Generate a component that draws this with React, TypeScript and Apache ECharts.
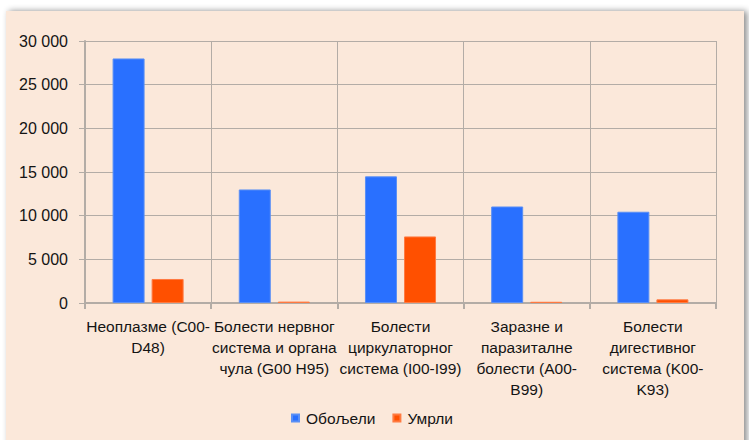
import React, { useEffect, useRef } from "react";
import * as echarts from "echarts";

const categories = [
  "Неоплазме (C00-\nD48)",
  "Болести нервног\nсистема и органа\nчула (G00 H95)",
  "Болести\nциркулаторног\nсистема (I00-I99)",
  "Заразне и\nпаразиталне\nболести (A00-\nB99)",
  "Болести\nдигестивног\nсистема (K00-\nK93)",
];
const seriesNames = ["Обољели", "Умрли"];
const oboljeli = [28000, 13000, 14500, 11050, 10450];
const umrli = [2750, 160, 7620, 140, 420];
const yTicks = [0, 5000, 10000, 15000, 20000, 25000, 30000];

const FONT = "'Liberation Sans', Arial, sans-serif";
const GRID_COLOR = "#b3aca6";
const TEXT_COLOR = "#141414";

export default function App() {
  const ref = useRef<HTMLDivElement>(null);

  useEffect(() => {
    if (!ref.current) return;
    const chart = echarts.init(ref.current, null, { renderer: "svg" });
    chart.setOption({
      animation: false,
      backgroundColor: "#ffffff",
      graphic: [
        {
          type: "rect",
          z: -10,
          silent: true,
          shape: { x: 6, y: 11, width: 738, height: 440 },
          style: {
            fill: "#fbe8da",
            shadowColor: "rgba(0,0,0,0.45)",
            shadowBlur: 6,
            shadowOffsetX: 3,
            shadowOffsetY: 0,
          },
        },
      ],
      textStyle: { fontFamily: FONT },
      grid: { left: 85, right: 33, top: 41, bottom: 137, containLabel: false },
      legend: {
        left: 286,
        top: 405,
        itemWidth: 7,
        itemHeight: 7,
        itemGap: 17,
        icon: "rect",
        textStyle: { fontFamily: FONT, fontSize: 15.5, color: TEXT_COLOR, padding: [0, 0, 0, 2] },
        data: seriesNames,
      },
      xAxis: {
        type: "category",
        data: categories,
        axisLine: { lineStyle: { color: GRID_COLOR, width: 2 } },
        axisTick: { show: true, length: 6, lineStyle: { color: GRID_COLOR, width: 2 } },
        splitLine: { show: true, lineStyle: { color: GRID_COLOR, width: 1 } },
        axisLabel: {
          interval: 0,
          margin: 13,
          fontFamily: FONT,
          fontSize: 15.5,
          lineHeight: 21,
          color: TEXT_COLOR,
          align: "center",
        },
      },
      yAxis: {
        type: "value",
        min: 0,
        max: 30000,
        interval: 5000,
        axisLine: { show: true, lineStyle: { color: GRID_COLOR, width: 2 } },
        axisTick: { show: true, length: 6, lineStyle: { color: GRID_COLOR, width: 1 } },
        splitLine: { show: true, lineStyle: { color: GRID_COLOR, width: 1 } },
        axisLabel: {
          margin: 17,
          fontFamily: FONT,
          fontSize: 16,
          color: TEXT_COLOR,
          customValues: yTicks,
          formatter: (v: number) => (v === 0 ? "0" : `${Math.round(v / 1000)} 000`),
        },
      },
      series: [
        {
          name: seriesNames[0],
          type: "bar",
          data: oboljeli,
          barWidth: 32,
          barGap: "22%",
          itemStyle: { color: "#2970ff", borderColor: "#5a8ff5", borderWidth: 1 },
        },
        {
          name: seriesNames[1],
          type: "bar",
          data: umrli,
          barWidth: 32,
          barGap: "22%",
          itemStyle: { color: "#ff5000", borderColor: "#ff7a40", borderWidth: 1 },
        },
      ],
    });
    return () => chart.dispose();
  }, []);

  return (
    <div
      ref={ref}
      style={{ position: "fixed", left: 0, top: 0, width: 749, height: 440 }}
    />
  );
}
